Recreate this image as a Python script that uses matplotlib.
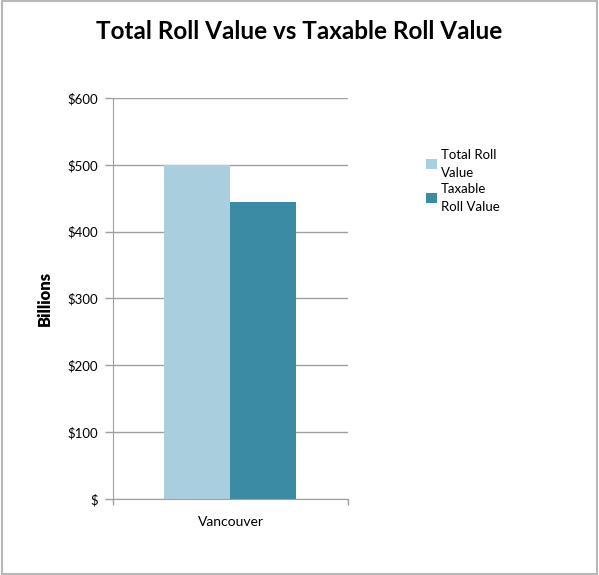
import matplotlib.pyplot as plt
import numpy as np

plt.rcParams['font.family'] = ['Lato', 'DejaVu Sans']

city = ['Vancouver']
series = ['Total Roll\nValue', 'Taxable\nRoll Value']
values = [500, 444]   # billions
colors = ['#A9CFDE', '#3A8BA3']
yticks = [0, 100, 200, 300, 400, 500, 600]
ylabels = ['$', '$100', '$200', '$300', '$400', '$500', '$600']

fig = plt.figure(figsize=(5.99, 5.75), dpi=100)
ax = fig.add_axes([0.1886, 0.1322, 0.3923, 0.6974])

width = 0.281
x = np.arange(len(city))
for i, (name, val, col) in enumerate(zip(series, values, colors)):
    ax.bar(x + (i - 0.5) * width, [val], width=width, color=col, label=name, zorder=2)

ax.set_xlim(-0.5, 0.5)
ax.set_ylim(0, 600)
ax.set_yticks(yticks)
ax.set_yticklabels(ylabels)
ax.set_xticks([-0.5, 0.5])
ax.set_xticklabels(['', ''])
ax.set_xticks(x, minor=True)
ax.set_xticklabels(city, minor=True)
ax.tick_params(axis='x', which='minor', length=0, pad=12)
ax.tick_params(axis='x', which='major', length=4, color='#A0A0A0', width=1)
ax.tick_params(axis='y', length=6, color='#A0A0A0', width=1, pad=5)
ax.tick_params(labelsize=9.5, labelcolor='black')
ax.yaxis.grid(True, color='#A0A0A0', linewidth=1, zorder=0)

for side in ['top', 'right']:
    ax.spines[side].set_visible(False)
for side in ['left', 'bottom']:
    ax.spines[side].set_color('#A0A0A0')

ax.set_ylabel('Billions', fontsize=12, fontweight='heavy', labelpad=10)

fig.suptitle('Total Roll Value vs Taxable Roll Value', x=0.5, y=0.965,
             fontsize=17.5, fontweight='bold')

leg = fig.legend(loc='upper left', bbox_to_anchor=(0.692, 0.762), frameon=False,
                 fontsize=9.5, handlelength=0.8, handleheight=0.8, handletextpad=0.3,
                 labelspacing=0.3)
for t in leg.get_texts():
    t.set_linespacing(1.6)

# light frame around the whole figure
fig.patches.append(plt.Rectangle((0.004, 0.002), 0.992, 0.996, transform=fig.transFigure,
                                 fill=False, edgecolor='#B8B8B8', linewidth=1.5))

fig.savefig('out.png', dpi=100)
